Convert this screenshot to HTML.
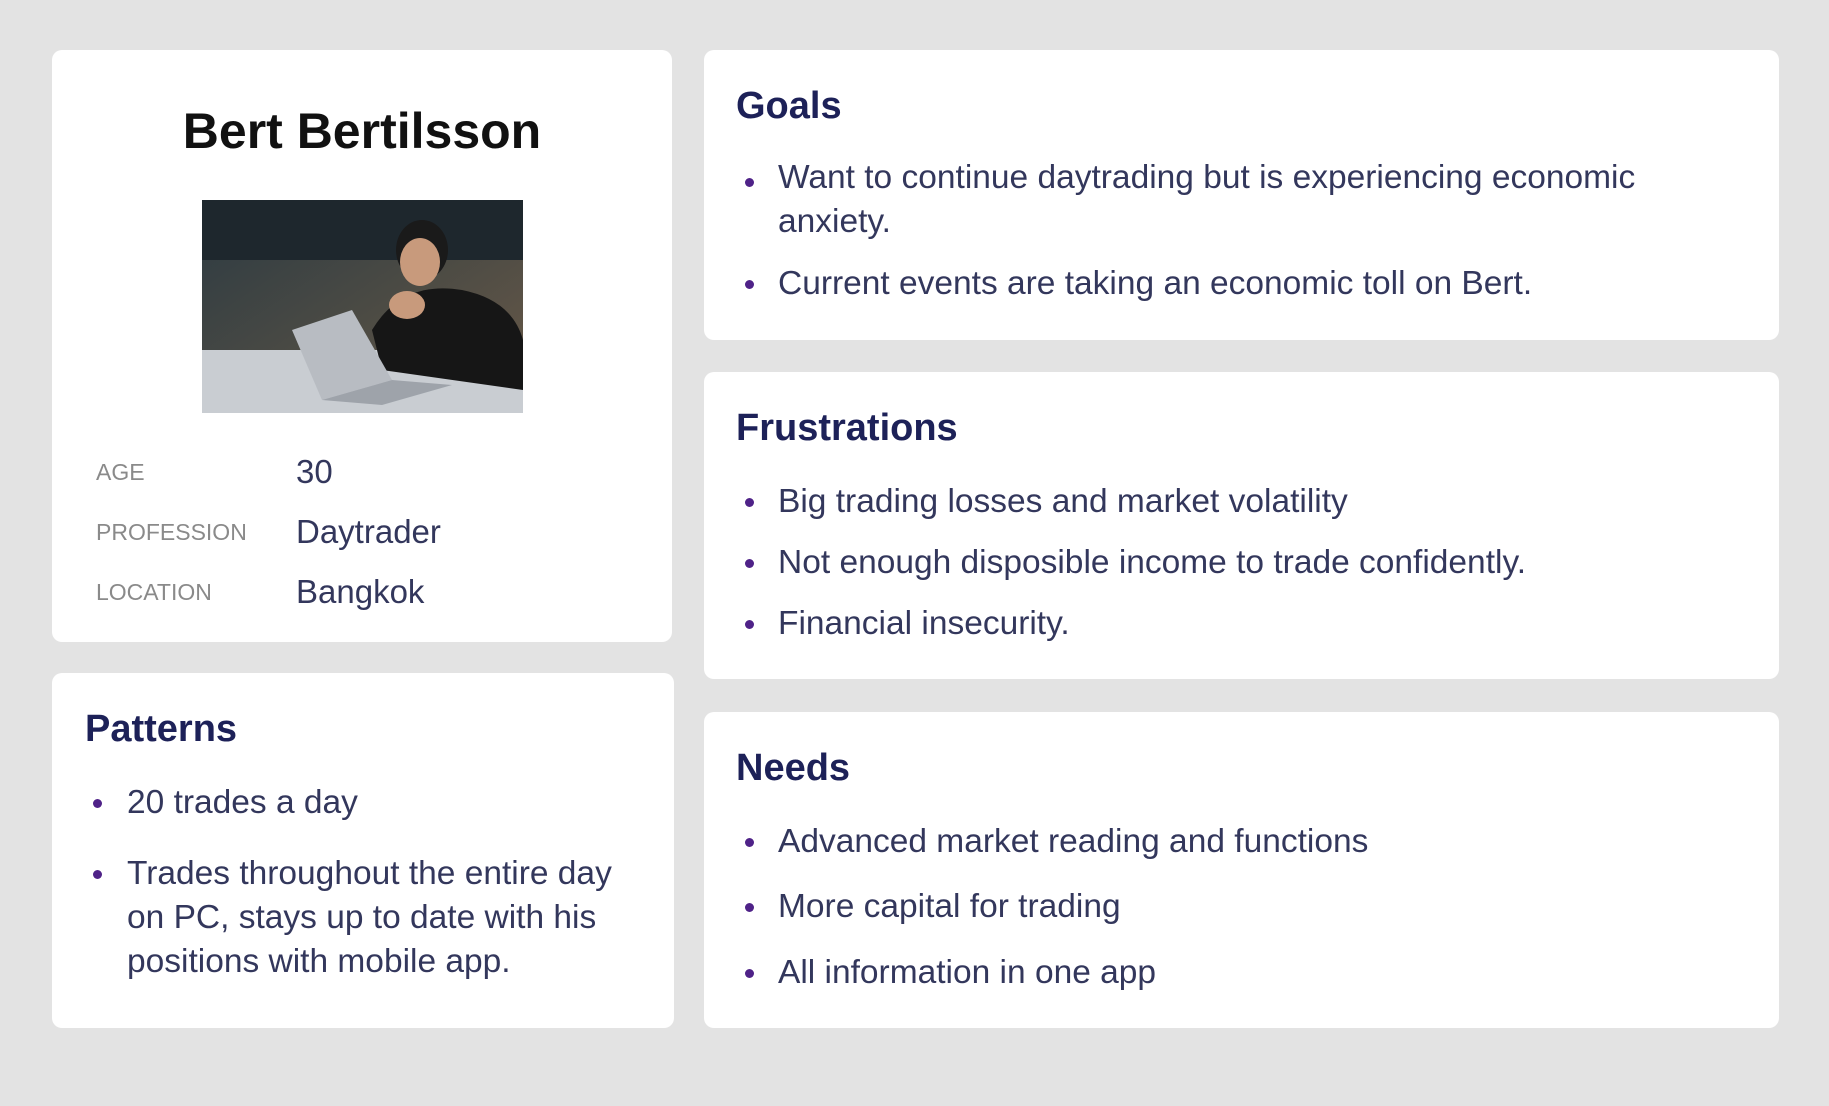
<!DOCTYPE html>
<html><head><meta charset="utf-8"><style>
*{margin:0;padding:0;box-sizing:border-box}
body{width:1829px;height:1106px;background:#e3e3e3;position:relative;overflow:hidden;font-family:"Liberation Sans",sans-serif}
.card{position:absolute;background:#fff;border-radius:10px}
.h{position:absolute;font-weight:bold;font-size:38px;color:#1d2158;white-space:nowrap}
.t{position:absolute;font-size:33.5px;color:#33375c;white-space:nowrap;line-height:44px}
.d{position:absolute;width:9px;height:9px;border-radius:50%;background:#4f2288}
.lab{position:absolute;font-size:23px;color:#8a8a8a;white-space:nowrap}
.val{position:absolute;font-size:33px;color:#33375c;white-space:nowrap}
</style></head><body>
<div class="card" style="left:52px;top:50px;width:620px;height:592px"></div>
<div class="card" style="left:52px;top:673px;width:622px;height:355px"></div>
<div class="card" style="left:704px;top:50px;width:1075px;height:290px"></div>
<div class="card" style="left:704px;top:372px;width:1075px;height:307px"></div>
<div class="card" style="left:704px;top:712px;width:1075px;height:316px"></div>

<div style="position:absolute;left:52px;width:620px;top:102px;text-align:center;font-weight:bold;font-size:50px;color:#111">Bert Bertilsson</div>
<svg style="position:absolute;left:202px;top:200px" width="321" height="213" viewBox="0 0 321 213">
<defs><linearGradient id="bg" x1="0" y1="0" x2="1" y2="1"><stop offset="0" stop-color="#2c3a42"/><stop offset="0.5" stop-color="#4a4a44"/><stop offset="1" stop-color="#6b5a48"/></linearGradient></defs>
<rect width="321" height="213" fill="url(#bg)"/>
<rect x="0" y="0" width="321" height="60" fill="#1e272d"/>
<rect x="0" y="150" width="321" height="63" fill="#c9cdd2"/>
<ellipse cx="220" cy="50" rx="26" ry="30" fill="#1a1a1a"/>
<ellipse cx="218" cy="62" rx="20" ry="24" fill="#c89a7c"/>
<path d="M170 130 Q200 80 260 90 Q310 100 321 140 L321 190 L180 170 Z" fill="#161616"/>
<ellipse cx="205" cy="105" rx="18" ry="14" fill="#c89a7c"/>
<path d="M90 130 L150 110 L190 180 L120 200 Z" fill="#b8bcc2"/>
<path d="M120 200 L190 180 L250 185 L180 205 Z" fill="#9ea3aa"/>
</svg>

<div class="lab" style="left:96px;top:459px">AGE</div>
<div class="val" style="left:296px;top:453px">30</div>
<div class="lab" style="left:96px;top:519px">PROFESSION</div>
<div class="val" style="left:296px;top:513px">Daytrader</div>
<div class="lab" style="left:96px;top:579px">LOCATION</div>
<div class="val" style="left:296px;top:573px">Bangkok</div>

<div class="h" style="left:85px;top:708px">Patterns</div>
<div class="d" style="left:93px;top:799px"></div>
<div class="t" style="left:127px;top:781px">20 trades a day</div>
<div class="d" style="left:93px;top:870px"></div>
<div class="t" style="left:127px;top:852px">Trades throughout the entire day<br>on PC, stays up to date with his<br>positions with mobile app.</div>

<div class="h" style="left:736px;top:85px">Goals</div>
<div class="d" style="left:745px;top:178px"></div>
<div class="t" style="left:778px;top:156px">Want to continue daytrading but is experiencing economic<br>anxiety.</div>
<div class="d" style="left:745px;top:280px"></div>
<div class="t" style="left:778px;top:262px">Current events are taking an economic toll on Bert.</div>

<div class="h" style="left:736px;top:407px">Frustrations</div>
<div class="d" style="left:745px;top:498px"></div>
<div class="t" style="left:778px;top:480px">Big trading losses and market volatility</div>
<div class="d" style="left:745px;top:559px"></div>
<div class="t" style="left:778px;top:541px">Not enough disposible income to trade confidently.</div>
<div class="d" style="left:745px;top:620px"></div>
<div class="t" style="left:778px;top:602px">Financial insecurity.</div>

<div class="h" style="left:736px;top:747px">Needs</div>
<div class="d" style="left:745px;top:838px"></div>
<div class="t" style="left:778px;top:820px">Advanced market reading and functions</div>
<div class="d" style="left:745px;top:903px"></div>
<div class="t" style="left:778px;top:885px">More capital for trading</div>
<div class="d" style="left:745px;top:969px"></div>
<div class="t" style="left:778px;top:951px">All information in one app</div>
</body></html>
